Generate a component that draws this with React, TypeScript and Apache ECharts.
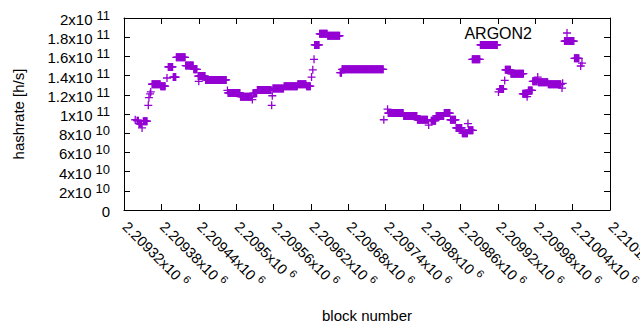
import React, { useEffect, useRef } from "react";
import * as echarts from "echarts";

// Runs of consecutive blocks that share one hashrate reading (single points have start === end)
const runStart = [
  2209338, 2209341, 2209344, 2209349, 2209351, 2209359, 2209360, 2209362, 2209363, 2209365,
  2209379, 2209389, 2209391, 2209399, 2209404, 2209419, 2209432, 2209440, 2209439, 2209451,
  2209486, 2209487, 2209507, 2209526, 2209527, 2209534, 2209557, 2209558, 2209559, 2209577,
  2209599, 2209613, 2209621, 2209623, 2209625, 2209626, 2209634, 2209647, 2209667, 2209670,
  2209737, 2209743, 2209744, 2209769, 2209791, 2209809, 2209813, 2209821, 2209834, 2209844,
  2209853, 2209863, 2209872, 2209873, 2209879, 2209892, 2209921, 2209923, 2209931, 2209932,
  2209941, 2209960, 2209967, 2209969, 2209976, 2209984, 2209985, 2210001, 2210023, 2210024,
  2210027, 2210043, 2210053, 2210055,
];
const runEnd = [
  2209338, 2209343, 2209348, 2209349, 2209357, 2209359, 2209360, 2209362, 2209363, 2209378,
  2209386, 2209389, 2209398, 2209403, 2209418, 2209431, 2209437, 2209440, 2209450, 2209484,
  2209486, 2209506, 2209525, 2209526, 2209533, 2209556, 2209557, 2209558, 2209576, 2209598,
  2209612, 2209619, 2209621, 2209623, 2209625, 2209633, 2209646, 2209666, 2209669, 2209736,
  2209737, 2209743, 2209768, 2209790, 2209807, 2209809, 2209820, 2209833, 2209843, 2209852,
  2209862, 2209871, 2209872, 2209880, 2209891, 2209919, 2209921, 2209929, 2209931, 2209940,
  2209961, 2209968, 2209967, 2209975, 2209983, 2209984, 2210000, 2210021, 2210023, 2210024,
  2210042, 2210050, 2210053, 2210055,
];
const runValue = [
  9.4e10, 9.3e10, 9.0e10, 8.55e10, 9.25e10, 1.09e11, 1.17e11, 1.21e11, 1.23e11, 1.31e11,
  1.29e11, 1.375e11, 1.49e11, 1.385e11, 1.59e11, 1.505e11, 1.465e11, 1.34e11, 1.395e11, 1.355e11,
  1.245e11, 1.22e11, 1.18e11, 1.15e11, 1.215e11, 1.25e11, 1.09e11, 1.19e11, 1.266e11, 1.29e11,
  1.31e11, 1.29e11, 1.385e11, 1.46e11, 1.57e11, 1.72e11, 1.835e11, 1.815e11, 1.43e11, 1.465e11,
  9.4e10, 1.05e11, 1.01e11, 9.8e10, 9.4e10, 8.85e10, 9.3e10, 9.8e10, 1.01e11, 9.4e10,
  8.55e10, 8.0e10, 9.0e10, 8.3e10, 1.57e11, 1.72e11, 1.23e11, 1.26e11, 1.35e11, 1.46e11,
  1.42e11, 1.21e11, 1.18e11, 1.245e11, 1.34e11, 1.385e11, 1.33e11, 1.31e11, 1.27e11, 1.32e11,
  1.76e11, 1.58e11, 1.5e11, 1.53e11,
];

const seriesName = "ARGON2";
const xTitle = "block number";
const yTitle = "hashrate [h/s]";
const xMin = 2209320;
const xMax = 2210100;
const xStep = 60;
const yMin = 0;
const yMax = 2e11;
const yStep = 2e10;

const FONT = "'Liberation Sans', Arial, Helvetica, sans-serif";
const COLOR = "#9400d3";
const PLUS = "path://M4.2,0h1.6v4.2h4.2v1.6h-4.2v4.2h-1.6v-4.2h-4.2v-1.6h4.2z";

function buildPoints(): number[][] {
  const pts: number[][] = [];
  runStart.forEach((s, i) => {
    for (let b = s; b <= runEnd[i]; b++) pts.push([b, runValue[i]]);
  });
  return pts;
}

function fmtX(v: number): string {
  const m = (v / 1e6).toPrecision(6).replace(/\.?0+$/, "");
  return `{b|${m}x10}{s|6}`;
}

function fmtY(v: number): string {
  if (v === 0) return "{b|0}";
  const e = Math.floor(Math.log10(v) + 1e-9);
  const m = +(v / Math.pow(10, e)).toFixed(3);
  return `{b|${m}x10}{s|${e}}`;
}

export default function App() {
  const ref = useRef<HTMLDivElement>(null);
  useEffect(() => {
    if (!ref.current) return;
    const chart = echarts.init(ref.current, null, { renderer: "svg" });
    const axisLine = { show: true, onZero: false, lineStyle: { color: "#000", width: 1 } };
    const axisTick = { show: true, inside: true, length: 6, lineStyle: { color: "#000", width: 1 } };
    chart.setOption({
      animation: false,
      backgroundColor: "#fff",
      grid: { left: 124, right: 30, top: 18, bottom: 120, outerBoundsMode: "none", containLabel: false },
      legend: {
        show: true,
        data: [{ name: seriesName, icon: PLUS }],
        right: 64,
        top: 20,
        align: "right",
        itemWidth: 60,
        itemHeight: 8,
        selectedMode: false,
        textStyle: { fontSize: 16, color: "#000", fontFamily: FONT },
      },
      xAxis: [
        {
          type: "value",
          position: "bottom",
          min: xMin,
          max: xMax,
          interval: xStep,
          axisLine,
          axisTick,
          splitLine: { show: false },
          name: xTitle,
          nameLocation: "middle",
          nameGap: 98,
          nameTextStyle: { fontSize: 15, color: "#000", fontFamily: FONT },
          axisLabel: {
            show: true,
            rotate: -45,
            margin: 11,
            padding: [0, 0, 0, 3],
            showMinLabel: true,
            showMaxLabel: true,
            hideOverlap: false,
            formatter: fmtX,
            rich: {
              b: { fontSize: 14.5, fontFamily: FONT, color: "#000", lineHeight: 18, verticalAlign: "bottom" },
              s: { fontSize: 11, fontFamily: FONT, color: "#000", lineHeight: 11, verticalAlign: "top", padding: [0, 0, 0, 4] },
            },
          },
        },
        {
          type: "value",
          position: "top",
          min: xMin,
          max: xMax,
          interval: xStep,
          axisLine,
          axisTick,
          axisLabel: { show: false },
          splitLine: { show: false },
        },
      ],
      yAxis: [
        {
          type: "value",
          position: "left",
          min: yMin,
          max: yMax,
          interval: yStep,
          axisLine,
          axisTick,
          splitLine: { show: false },
          name: yTitle,
          nameLocation: "middle",
          nameGap: 98,
          nameTextStyle: { fontSize: 15, color: "#000", fontFamily: FONT },
          axisLabel: {
            show: true,
            margin: 14,
            showMinLabel: true,
            showMaxLabel: true,
            hideOverlap: false,
            formatter: fmtY,
            rich: {
              b: { fontSize: 15, fontFamily: FONT, color: "#000", lineHeight: 18, verticalAlign: "bottom" },
              s: { fontSize: 13, fontFamily: FONT, color: "#000", lineHeight: 9, verticalAlign: "top", padding: [0, 0, 0, 4] },
            },
          },
        },
        {
          type: "value",
          position: "right",
          min: yMin,
          max: yMax,
          interval: yStep,
          axisLine,
          axisTick,
          axisLabel: { show: false },
          splitLine: { show: false },
        },
      ],
      series: [
        {
          name: seriesName,
          type: "scatter",
          xAxisIndex: 0,
          yAxisIndex: 0,
          symbol: PLUS,
          symbolSize: 8,
          itemStyle: { color: COLOR, opacity: 1 },
          emphasis: { disabled: true },
          silent: true,
          data: buildPoints(),
        },
      ],
    });
    return () => chart.dispose();
  }, []);
  return (
    <div
      ref={ref}
      style={{ position: "absolute", left: 0, top: 0, width: 640, height: 330, background: "#fff" }}
    />
  );
}
